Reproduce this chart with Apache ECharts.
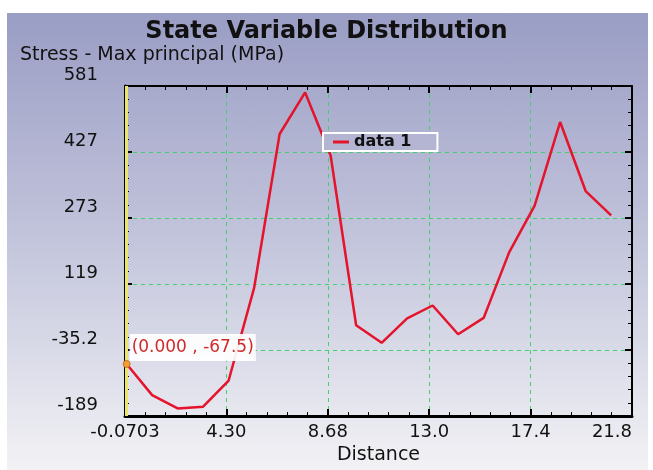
<!DOCTYPE html>
<html>
<head>
<meta charset="utf-8">
<script src="https://cdn.jsdelivr.net/npm/echarts@6/dist/echarts.min.js"></script>
<style>
  html, body { margin: 0; padding: 0; background: #ffffff; }
  #bg { position: absolute; left: 7px; top: 13px; width: 641px; height: 457px;
        background: linear-gradient(to bottom, #9a9dc4 0%, #c3c5dc 50%, #f2f2f5 100%); }
  #chart { position: absolute; left: 0; top: 0; width: 653px; height: 470px; }
</style>
</head>
<body>
<div id="bg"></div>
<div id="chart"></div>
<script>
// ---- data ----
const distance = [0, 1.1, 2.2, 3.3, 4.4, 5.5, 6.6, 7.7, 8.8, 9.9, 11.0, 12.1, 13.2, 14.3, 15.4, 16.5, 17.6, 18.7, 19.8, 20.9];
const stress = [-67.5, -140, -171, -167, -106, 110, 469, 566, 419, 23, -18, 39, 69, 2, 40, 193, 302, 497, 336, 279];
const xTickLabels = ['-0.0703', '4.30', '8.68', '13.0', '17.4', '21.8'];
const yTickLabels = ['-189', '-35.2', '119', '273', '427', '581'];
const xMin = -0.0703, xMax = 21.8;
const yMin = -189, yMax = 581;
const seriesName = 'data 1';

const xInterval = (xMax - xMin) / (xTickLabels.length - 1);
const yInterval = (yMax - yMin) / (yTickLabels.length - 1);
const FONT = 'DejaVu Sans';

const chart = echarts.init(document.getElementById('chart'), null, { renderer: 'canvas' });

const tickCommon = {
  axisTick: { show: true, inside: true, length: 7, lineStyle: { color: '#000', width: 2 } },
  minorTick: { show: true, splitNumber: 5, length: 4, lineStyle: { color: '#000', width: 1 } }
};
const gridLine = { show: true, lineStyle: { color: '#3fd36a', width: 1, type: [4, 4] } };

chart.setOption({
  backgroundColor: 'transparent',
  animation: false,
  title: [
    { text: 'State Variable Distribution', left: 'center', top: 20, padding: 0,
      textStyle: { fontFamily: FONT, fontSize: 24, fontWeight: 'bold', color: '#111' } },
    { text: 'Stress - Max principal (MPa)', left: 20, top: 46, padding: 0,
      textStyle: { fontFamily: FONT, fontSize: 19, fontWeight: 'normal', color: '#111' } }
  ],
  legend: {
    show: true, left: 323, top: 133, orient: 'horizontal',
    padding: [1, 26, 1, 10],
    backgroundColor: 'rgb(179,181,210)',
    borderColor: '#ffffff', borderWidth: 2, borderRadius: 0,
    icon: 'rect', itemWidth: 16, itemHeight: 3,
    textStyle: { fontFamily: FONT, fontSize: 16, fontWeight: 'bold', color: '#111' },
    data: [seriesName]
  },
  grid: { left: 125, right: 21, top: 86, bottom: 47, show: false, containLabel: false },
  xAxis: [
    Object.assign({
      type: 'value', position: 'bottom', min: xMin, max: xMax, interval: xInterval,
      name: 'Distance', nameLocation: 'middle', nameGap: 28,
      nameTextStyle: { fontFamily: FONT, fontSize: 19, color: '#111' },
      axisLine: { show: true, onZero: false, lineStyle: { color: '#000', width: 3 } },
      axisLabel: { show: true, margin: 7, fontFamily: FONT, fontSize: 18, color: '#111',
        alignMaxLabel: 'right',
        formatter: v => xTickLabels[Math.round((v - xMin) / xInterval)] },
      splitLine: gridLine
    }, tickCommon),
    Object.assign({
      type: 'value', position: 'top', min: xMin, max: xMax, interval: xInterval,
      axisLine: { show: true, onZero: false, lineStyle: { color: '#000', width: 2 } },
      axisLabel: { show: false }, splitLine: { show: false }
    }, tickCommon)
  ],
  yAxis: [
    Object.assign({
      type: 'value', position: 'left', min: yMin, max: yMax, interval: yInterval,
      axisLine: { show: true, onZero: false, lineStyle: { color: '#000', width: 3 } },
      axisLabel: { show: true, margin: 27, fontFamily: FONT, fontSize: 18, color: '#111',
        verticalAlign: 'bottom', lineHeight: 18, padding: [0, 0, 2, 0],
        formatter: v => yTickLabels[Math.round((v - yMin) / yInterval)] },
      splitLine: gridLine
    }, tickCommon),
    Object.assign({
      type: 'value', position: 'right', min: yMin, max: yMax, interval: yInterval,
      axisLine: { show: true, onZero: false, lineStyle: { color: '#000', width: 2 } },
      axisLabel: { show: false }, splitLine: { show: false }
    }, tickCommon)
  ],
  series: [{
    name: seriesName,
    type: 'line',
    xAxisIndex: 0, yAxisIndex: 0,
    data: distance.map((d, i) => [d, stress[i]]),
    showSymbol: false, symbol: 'none',
    lineStyle: { color: '#e5132b', width: 2.5 },
    itemStyle: { color: '#e5132b' },
    clip: false,
    markLine: {
      silent: true, symbol: ['none', 'none'], animation: false,
      label: { show: false },
      lineStyle: { color: '#e8e66e', width: 3, type: 'solid' },
      data: [{ xAxis: distance[0] }]
    },
    markPoint: {
      silent: true, animation: false,
      symbol: 'circle', symbolSize: 7,
      itemStyle: { color: '#f0a030', borderColor: '#c87020', borderWidth: 1 },
      label: {
        show: true, position: [7, -26],
        formatter: '(' + distance[0].toFixed(3) + ' , ' + stress[0].toFixed(1) + ')',
        fontFamily: FONT, fontSize: 17, color: '#d22a2a',
        backgroundColor: 'rgba(255,255,255,0.92)', padding: [4, 2, 3, 2], lineHeight: 20
      },
      data: [{ coord: [distance[0], stress[0]] }]
    }
  }]
});
</script>
</body>
</html>
